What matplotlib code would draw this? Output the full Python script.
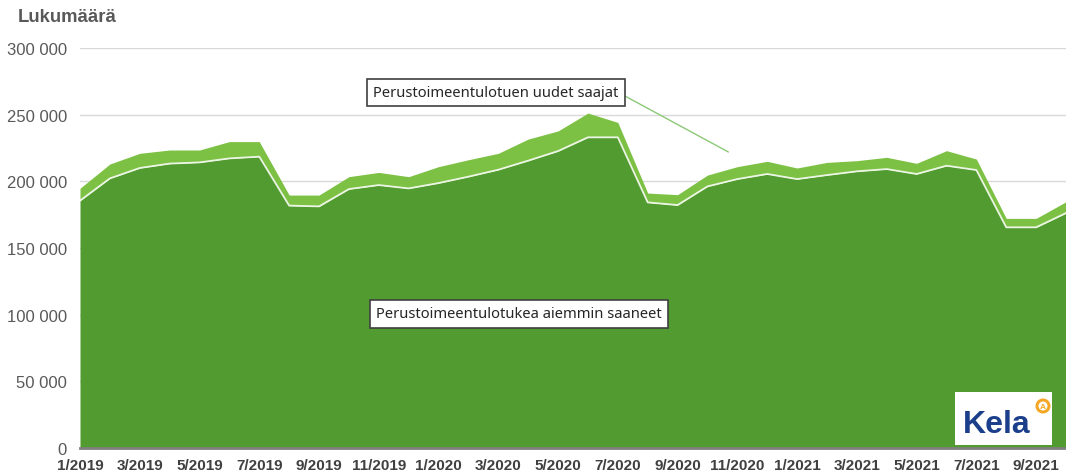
import numpy as np
import matplotlib.pyplot as plt
from matplotlib.patches import Rectangle, Circle

# kuukaudet 1/2019 - 10/2021
months = [f'{m}/{y}' for y in (2019, 2020, 2021) for m in range(1, 13)][:34]

aiemmin = [185.5, 202.2, 210.0, 213.3, 214.2, 217.2, 218.5, 181.8, 181.2, 194.2,
           197.2, 194.7, 198.7, 203.5, 208.7, 215.5, 222.7, 233.0, 233.0, 184.2,
           182.2, 196.2, 201.7, 205.5, 201.7, 204.7, 207.5, 209.2, 205.5, 211.7,
           208.5, 165.5, 165.5, 176.2]
yhteensa = [194.8, 213.0, 221.0, 223.5, 223.5, 229.8, 229.8, 189.7, 189.7, 203.5,
            206.7, 203.5, 211.0, 216.2, 221.0, 231.7, 237.8, 251.2, 244.2, 191.2,
            190.0, 204.7, 211.0, 215.0, 210.0, 214.2, 215.5, 218.0, 213.5, 223.0,
            216.7, 172.2, 172.2, 184.7]
aiemmin = np.array(aiemmin) * 1000
uudet = np.array(yhteensa) * 1000 - aiemmin

yticks = [0, 50000, 100000, 150000, 200000, 250000, 300000]
ytick_labels = ['0', '50 000', '100 000', '150 000', '200 000', '250 000', '300 000']

dark_green = '#529b30'
light_green = '#7cc144'

plt.rcParams['font.family'] = ['Liberation Sans', 'DejaVu Sans']
fig = plt.figure(figsize=(10.66, 4.77), dpi=100)
ax = fig.add_axes([80 / 1066, 28 / 477, 986 / 1066, 400 / 477])

x = np.arange(len(months))
ax.fill_between(x, 0, aiemmin, color=dark_green, lw=0, zorder=2)
ax.fill_between(x, aiemmin, aiemmin + uudet, color=light_green, lw=0, zorder=2)
ax.plot(x, aiemmin, color='white', lw=1.3, alpha=0.85, zorder=3)

ax.set_xlim(0, len(months) - 1)
ax.set_ylim(0, 300000)
ax.set_yticks(yticks)
ax.set_yticklabels(ytick_labels, fontsize=12, color='#595959')
ax.set_xticks(x[::2])
ax.set_xticklabels(months[::2], fontsize=11, fontweight='bold', color='#404040')
ax.tick_params(axis='both', length=0)
ax.tick_params(axis='y', pad=9.5)
ax.tick_params(axis='x', pad=7)
ax.grid(axis='y', color='#d9d9d9', lw=1, zorder=1)
for s in ['top', 'right', 'left']:
    ax.spines[s].set_visible(False)
ax.spines['bottom'].set_color('#7f7f7f')
ax.spines['bottom'].set_linewidth(2)
ax.spines['bottom'].set_zorder(4)

fig.text(18 / 1066, 1 - 18 / 477, 'Lukumäärä', fontsize=13.3, fontweight='bold',
         color='#595959', va='center', ha='left')

box = dict(boxstyle='square,pad=0.42', fc='white', ec='#404040', lw=1.2)
ax.annotate('Perustoimeentulotuen uudet saajat', xy=(21.7, 222000), xytext=(9.82, 266500),
            fontsize=10.6, family=['Noto Sans', 'DejaVu Sans'], color='#262626', ha='left', va='center', bbox=box,
            arrowprops=dict(arrowstyle='-', color='#8cc878', lw=1, shrinkA=0, shrinkB=0, relpos=(1, 0.5)),
            zorder=5)
ax.text(9.92, 100500, 'Perustoimeentulotukea aiemmin saaneet', fontsize=10.6,
        family=['Noto Sans', 'DejaVu Sans'], color='#262626', ha='left', va='center', bbox=box, zorder=5)

# Kela-logo
lax = fig.add_axes([955 / 1066, 31 / 477, 97 / 1066, 53 / 477])
lax.set_xlim(0, 97)
lax.set_ylim(0, 53)
lax.axis('off')
lax.add_patch(Rectangle((0, 0), 97, 53, fc='white', ec='none'))
lax.text(8, 21, 'Kela', fontsize=23, fontweight='bold', color='#1b3f8b', va='center', ha='left')
lax.add_patch(Circle((88, 39), 7.5, fc='#f5a623', ec='none'))
lax.add_patch(Circle((88, 39), 4.5, fc='white', ec='none'))
lax.text(88, 38.5, 'A', fontsize=6, fontweight='bold', color='#f5a623', va='center', ha='center')

fig.savefig('out.png', dpi=100)
